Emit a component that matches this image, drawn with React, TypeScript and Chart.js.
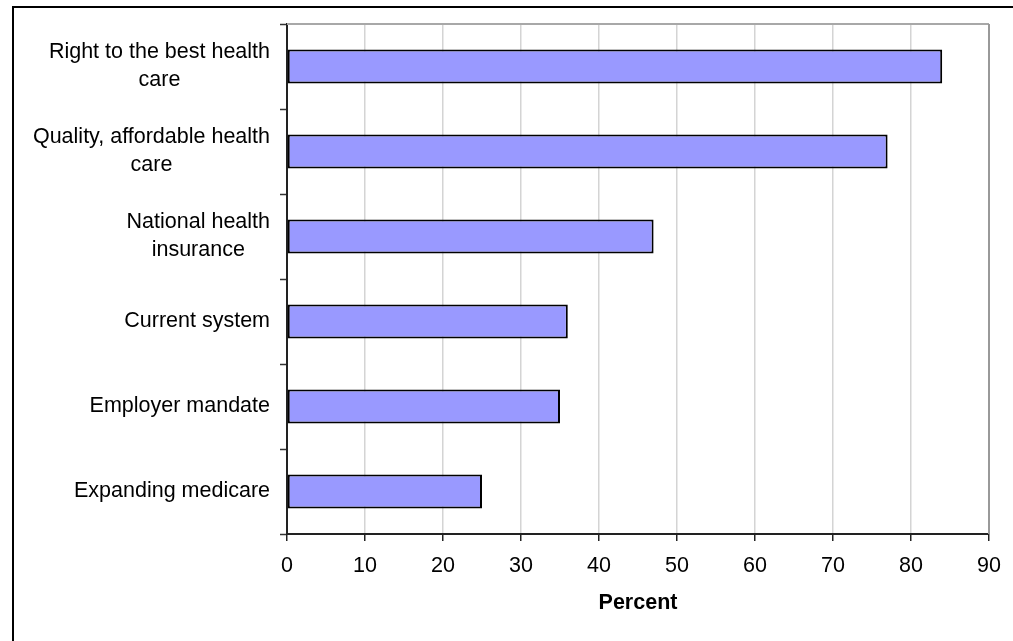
import React, { useEffect, useRef } from "react";
import { Chart, registerables } from "chart.js";

Chart.register(...registerables);

const categories: string[][] = [
  ["Right to the best health", "care"],
  ["Quality, affordable health", "care"],
  ["National health", "insurance"],
  ["Current system"],
  ["Employer mandate"],
  ["Expanding medicare"],
];
const values: number[] = [84, 77, 47, 36, 35, 25];
const xTicks: number[] = [0, 10, 20, 30, 40, 50, 60, 70, 80, 90];
const xTitle = "Percent";

const FONT = '"Liberation Sans", Arial, sans-serif';
const FS = 21.5;

const framePlugin = {
  id: "frame",
  beforeDraw(chart: any) {
    const ctx = chart.ctx;
    ctx.save();
    ctx.fillStyle = "#ffffff";
    ctx.fillRect(0, 0, chart.width, chart.height);
    ctx.strokeStyle = "#000000";
    ctx.lineWidth = 2;
    ctx.strokeRect(13, 7, chart.width + 10, chart.height + 10);
    ctx.restore();
  },
  afterDatasetsDraw(chart: any) {
    const ctx = chart.ctx;
    const a = chart.chartArea;
    ctx.save();
    ctx.strokeStyle = "#a8a8a8";
    ctx.lineWidth = 2;
    ctx.beginPath();
    ctx.moveTo(a.left, a.top);
    ctx.lineTo(a.right, a.top);
    ctx.stroke();
    ctx.strokeStyle = "#999999";
    ctx.beginPath();
    ctx.moveTo(a.right, a.top);
    ctx.lineTo(a.right, a.bottom);
    ctx.stroke();
    ctx.restore();
  },
  afterDraw(chart: any) {
    const ctx = chart.ctx;
    const y = chart.scales.y;
    const rightEdge = chart.chartArea.left - 17;
    const lh = 28;
    ctx.save();
    ctx.font = `${FS}px ${FONT}`;
    ctx.fillStyle = "#000000";
    ctx.textAlign = "center";
    ctx.textBaseline = "middle";
    categories.forEach((lines, i) => {
      const cy = y.getPixelForValue(i);
      const w = Math.max(...lines.map((l) => ctx.measureText(l).width));
      const cx = rightEdge - w / 2;
      lines.forEach((l, j) => {
        ctx.fillText(l, cx, cy + (j - (lines.length - 1) / 2) * lh);
      });
    });
    ctx.restore();
  },
};

export default function App() {
  const ref = useRef<HTMLCanvasElement>(null);
  useEffect(() => {
    document.body.style.margin = "0";
    const chart = new Chart(ref.current!, {
      type: "bar",
      data: {
        labels: categories.map((c) => c.join(" ")),
        datasets: [
          {
            data: values,
            backgroundColor: "#9999ff",
            borderColor: "#000000",
            borderWidth: 2,
            borderSkipped: false,
            barPercentage: 0.4,
            categoryPercentage: 1,
          },
        ],
      },
      options: {
        indexAxis: "y",
        animation: false,
        responsive: false,
        layout: { padding: { left: 0, top: 24, right: 24, bottom: 0 } },
        plugins: { legend: { display: false }, tooltip: { enabled: false } },
        scales: {
          x: {
            min: 0,
            max: 90,
            afterBuildTicks: (s: any) => {
              s.ticks = xTicks.map((v) => ({ value: v }));
            },
            afterFit: (s: any) => {
              s.height = 107;
            },
            ticks: {
              font: { family: FONT, size: FS },
              color: "#000000",
              padding: 12,
              maxRotation: 0,
            },
            grid: {
              color: "#d4d4d4",
              lineWidth: 1.5,
              tickColor: "#222222",
              tickLength: 7,
              tickWidth: 1.5,
            },
            border: { color: "#222222", width: 2 },
            title: {
              display: true,
              text: xTitle,
              font: { family: FONT, size: FS, weight: "bold" },
              color: "#000000",
              padding: { top: 0, bottom: 25 },
            },
          },
          y: {
            offset: true,
            afterFit: (s: any) => {
              s.width = 287;
            },
            ticks: { display: false },
            grid: {
              offset: true,
              drawOnChartArea: false,
              tickLength: 7,
              tickColor: "#333333",
              tickWidth: 1.5,
            },
            border: { color: "#222222", width: 2 },
          },
        },
      },
      plugins: [framePlugin],
    });
    return () => chart.destroy();
  }, []);
  return (
    <div style={{ position: "fixed", left: 0, top: 0, width: 1013, height: 641 }}>
      <canvas ref={ref} width={1013} height={641} />
    </div>
  );
}
